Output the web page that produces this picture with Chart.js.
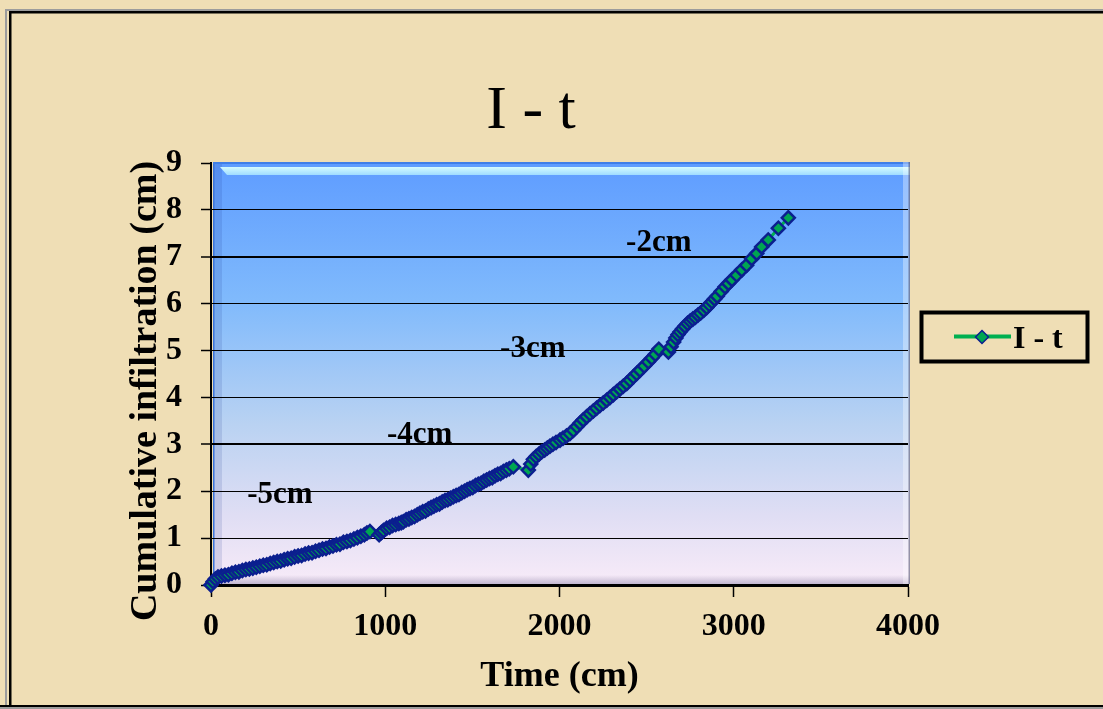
<!DOCTYPE html>
<html>
<head>
<meta charset="utf-8">
<title>I - t</title>
<script src="https://cdn.jsdelivr.net/npm/chart.js@4.4.1/dist/chart.umd.min.js"></script>
<style>
  html, body { margin: 0; padding: 0; background: #efdeb5; }
  #wrap { width: 1103px; height: 709px; position: relative; }
  canvas { display: block; }
</style>
</head>
<body>
<div id="wrap"><canvas id="chart" width="1103" height="709"></canvas></div>
<script>
// Cumulative infiltration readings for each suction stage (time, infiltration in cm)
const stageNames = ['-5cm', '-4cm', '-3cm', '-2cm'];

const time5 = [0, 12, 25, 40, 60, 80, 100, 120, 140, 160, 180, 200, 220, 240, 260, 280, 300, 320, 340, 360,
  380, 400, 420, 440, 460, 480, 500, 520, 540, 560, 580, 600, 620, 640, 660, 680, 700, 720, 740, 760,
  780, 800, 820, 840, 860, 880, 895, 912];
const infil5 = [0.00, 0.07, 0.13, 0.17, 0.19, 0.21, 0.22, 0.25, 0.27, 0.28, 0.31, 0.33, 0.34, 0.36, 0.38, 0.40, 0.42, 0.43, 0.46, 0.48,
  0.50, 0.51, 0.54, 0.56, 0.57, 0.60, 0.62, 0.63, 0.66, 0.68, 0.69, 0.72, 0.74, 0.77, 0.78, 0.81, 0.83, 0.86, 0.87, 0.91,
  0.93, 0.95, 0.98, 1.01, 1.04, 1.07, 1.11, 1.14];

const time4 = [965, 978, 990, 1008, 1025, 1042, 1060, 1078, 1092, 1104, 1120, 1136, 1152, 1168, 1184, 1199, 1215, 1231, 1247, 1263,
  1279, 1295, 1311, 1327, 1343, 1359, 1375, 1391, 1407, 1423, 1439, 1455, 1470, 1486, 1502, 1518, 1534, 1550, 1566, 1582,
  1598, 1614, 1630, 1646, 1662, 1678, 1695, 1712, 1735];
const infil4 = [1.07, 1.12, 1.16, 1.21, 1.23, 1.27, 1.29, 1.31, 1.33, 1.35, 1.39, 1.41, 1.44, 1.46, 1.50, 1.53, 1.56, 1.58, 1.62, 1.65,
  1.68, 1.71, 1.73, 1.77, 1.80, 1.82, 1.85, 1.88, 1.91, 1.93, 1.97, 2.00, 2.03, 2.06, 2.08, 2.12, 2.15, 2.17, 2.21, 2.24,
  2.27, 2.29, 2.33, 2.36, 2.38, 2.42, 2.45, 2.48, 2.52];

const time3 = [1821, 1835, 1850, 1866, 1882, 1898, 1915, 1930, 1945, 1962, 1980, 2003, 2020, 2040, 2060, 2080, 2100, 2118, 2136, 2156,
  2175, 2194, 2213, 2232, 2251, 2271, 2290, 2309, 2328, 2347, 2366, 2386, 2405, 2424, 2443, 2462, 2486, 2510, 2530, 2550, 2570];
const infil3 = [2.45, 2.58, 2.68, 2.74, 2.79, 2.84, 2.88, 2.92, 2.96, 3.00, 3.04, 3.09, 3.13, 3.18, 3.23, 3.30, 3.38, 3.45, 3.52, 3.59,
  3.65, 3.71, 3.77, 3.83, 3.88, 3.94, 4.00, 4.06, 4.12, 4.18, 4.24, 4.30, 4.37, 4.44, 4.51, 4.58, 4.67, 4.76, 4.84, 4.92, 5.03];

const time2 = [2625, 2640, 2655, 2668, 2680, 2692, 2706, 2720, 2735, 2750, 2765, 2780, 2795, 2810, 2828, 2845, 2860, 2875, 2890, 2905,
  2928, 2950, 2970, 2990, 3017, 3046, 3074, 3103, 3132, 3160, 3198, 3256, 3313];
const infil2 = [4.97, 5.08, 5.18, 5.27, 5.34, 5.40, 5.46, 5.52, 5.58, 5.63, 5.67, 5.71, 5.76, 5.80, 5.86, 5.92, 5.98, 6.04, 6.10, 6.16,
  6.26, 6.36, 6.43, 6.51, 6.61, 6.72, 6.82, 6.96, 7.07, 7.21, 7.36, 7.61, 7.83];

const xTicks = [0, 1000, 2000, 3000, 4000];
const yTicks = [0, 1, 2, 3, 4, 5, 6, 7, 8, 9];

const seriesName = 'I - t';
const chartTitle = 'I - t';
const xTitle = 'Time (cm)';
const yTitle = 'Cumulative infiltration (cm)';

// one continuous series built from the four stages
const stageTimes = [time5, time4, time3, time2];
const stageInfil = [infil5, infil4, infil3, infil2];
const points = [];
stageTimes.forEach((ts, s) => ts.forEach((t, i) => points.push({ x: t, y: stageInfil[s][i] })));

const SERIF = '"Liberation Serif", "Times New Roman", Times, serif';
const LINE_GREEN = '#00b050';
const MARK_GREEN = '#00a651';
const MARK_EDGE = '#0b1f8f';

// parchment page, double frame and the bevelled gradient plot panel
const backdrop = {
  id: 'backdrop',
  beforeDraw(chart) {
    const ctx = chart.ctx;
    const a = chart.chartArea;
    const W = chart.width, H = chart.height;
    ctx.save();
    ctx.fillStyle = '#efdeb5';
    ctx.fillRect(0, 0, W, H);

    // outer frame
    ctx.fillStyle = '#9c9c9c';
    ctx.fillRect(5, 9, W - 5, 2);
    ctx.fillRect(5, 9, 2, H - 9);
    ctx.fillStyle = '#000';
    ctx.fillRect(9, 11, W - 9, 2.5);
    ctx.fillRect(9, 11, 2.5, H - 11);
    ctx.fillRect(0, 705, W, 2);
    ctx.fillStyle = '#9c9c9c';
    ctx.fillRect(0, 707, W, 2);

    // plot panel
    const x0 = a.left + 2, y0 = a.top - 1, x1 = a.right + 2, y1 = a.bottom - 1;
    const g = ctx.createLinearGradient(0, y0, 0, y1);
    g.addColorStop(0, '#5e9cff');
    g.addColorStop(0.33, '#80bafc');
    g.addColorStop(0.62, '#b9d2f2');
    g.addColorStop(0.84, '#e0def4');
    g.addColorStop(1, '#f8ebf8');
    ctx.fillStyle = g;
    ctx.fillRect(x0, y0, x1 - x0, y1 - y0);

    // left shade strip
    ctx.fillStyle = 'rgba(20, 50, 140, 0.13)';
    ctx.fillRect(x0, y0, 9, y1 - y0);
    ctx.fillStyle = '#3a74dc';
    ctx.fillRect(x0, y0, 1.5, y1 - y0);

    // top edge and highlight
    ctx.fillStyle = '#3f7fe8';
    ctx.fillRect(x0, y0, x1 - x0, 2);
    const hg = ctx.createLinearGradient(0, y0 + 5, 0, y0 + 13);
    hg.addColorStop(0, '#d4fbff');
    hg.addColorStop(1, '#9fdcff');
    ctx.fillStyle = hg;
    ctx.beginPath();
    ctx.moveTo(x0 + 7, y0 + 5);
    ctx.lineTo(x1, y0 + 5);
    ctx.lineTo(x1, y0 + 13);
    ctx.lineTo(x0 + 14, y0 + 13);
    ctx.closePath();
    ctx.fill();

    // bottom shadow strip
    const bg = ctx.createLinearGradient(0, y1 - 9, 0, y1);
    bg.addColorStop(0, 'rgba(150, 140, 175, 0)');
    bg.addColorStop(1, 'rgba(150, 140, 175, 0.55)');
    ctx.fillStyle = bg;
    ctx.fillRect(x0, y1 - 9, x1 - x0, 9);

    // right bevel
    ctx.fillStyle = 'rgba(255, 255, 255, 0.35)';
    ctx.fillRect(x1 - 7, y0, 7, y1 - y0);
    ctx.fillStyle = 'rgba(70, 70, 100, 0.55)';
    ctx.fillRect(x1 - 1.5, y0, 1.5, y1 - y0);
    ctx.restore();
  }
};

// chart title, rotated y-axis title, stage notes and the legend box
const overlay = {
  id: 'overlay',
  afterDraw(chart, args, opts) {
    const ctx = chart.ctx;
    const xs = chart.scales.x, ys = chart.scales.y;
    ctx.save();
    ctx.fillStyle = '#000';

    ctx.font = '62px ' + SERIF;
    ctx.textAlign = 'center';
    ctx.textBaseline = 'middle';
    ctx.fillText(chartTitle, 531, 112);

    ctx.save();
    ctx.translate(146, 391);
    ctx.rotate(-Math.PI / 2);
    ctx.font = 'bold 38px ' + SERIF;
    ctx.fillText(yTitle, 0, 0);
    ctx.restore();

    ctx.font = 'bold 31px ' + SERIF;
    ctx.textAlign = 'left';
    ctx.textBaseline = 'alphabetic';
    opts.notes.forEach((n, i) => {
      ctx.fillText(stageNames[i], xs.getPixelForValue(n.t), ys.getPixelForValue(n.v));
    });

    // legend
    const ds = chart.data.datasets[0];
    ctx.lineWidth = 4;
    ctx.strokeStyle = '#000';
    ctx.strokeRect(921.5, 312.5, 166, 49);
    ctx.strokeStyle = ds.borderColor;
    ctx.beginPath();
    ctx.moveTo(954, 336.5);
    ctx.lineTo(1011, 336.5);
    ctx.stroke();
    const cx = 982, cy = 337, r = 6.5;
    ctx.beginPath();
    ctx.moveTo(cx, cy - r);
    ctx.lineTo(cx + r, cy);
    ctx.lineTo(cx, cy + r);
    ctx.lineTo(cx - r, cy);
    ctx.closePath();
    ctx.fillStyle = ds.pointBackgroundColor;
    ctx.fill();
    ctx.lineWidth = 1.5;
    ctx.strokeStyle = ds.pointBorderColor;
    ctx.stroke();
    ctx.fillStyle = '#000';
    ctx.font = 'bold 32px ' + SERIF;
    ctx.fillText(ds.label, 1013, 348);
    ctx.restore();
  }
};

new Chart(document.getElementById('chart'), {
  type: 'line',
  data: {
    datasets: [{
      label: seriesName,
      data: points,
      borderColor: LINE_GREEN,
      borderWidth: 3,
      pointStyle: 'rectRot',
      pointRadius: 6.5,
      pointBackgroundColor: MARK_GREEN,
      pointBorderColor: MARK_EDGE,
      pointBorderWidth: 2.5,
      tension: 0,
      clip: false
    }]
  },
  options: {
    responsive: false,
    animation: false,
    devicePixelRatio: 1,
    layout: { padding: { top: 163, right: 195, bottom: 0, left: 0 } },
    plugins: {
      legend: { display: false },
      title: { display: false },
      tooltip: { enabled: false },
      overlay: {
        notes: [
          { t: 208, v: 1.75 },
          { t: 1010, v: 3.03 },
          { t: 1659, v: 4.87 },
          { t: 2382, v: 7.12 }
        ]
      }
    },
    scales: {
      x: {
        type: 'linear',
        min: xTicks[0],
        max: xTicks[xTicks.length - 1],
        afterFit(s) { s.height = 124; },
        afterBuildTicks(s) { s.ticks = xTicks.map(v => ({ value: v })); },
        ticks: {
          color: '#000',
          font: { family: SERIF, size: 32, weight: 'bold' },
          padding: 11,
          maxRotation: 0,
          autoSkip: false,
          callback: v => String(v)
        },
        grid: {
          drawOnChartArea: false,
          tickColor: '#000',
          tickLength: 12,
          tickWidth: 1.5
        },
        border: { display: true, color: '#000', width: 3 },
        title: {
          display: true,
          text: xTitle,
          color: '#000',
          font: { family: SERIF, size: 36, weight: 'bold' },
          padding: { top: 0, bottom: 11 }
        }
      },
      y: {
        type: 'linear',
        min: yTicks[0],
        max: yTicks[yTicks.length - 1],
        afterFit(s) { s.width = 211; },
        afterBuildTicks(s) { s.ticks = yTicks.map(v => ({ value: v })); },
        ticks: {
          color: '#000',
          font: { family: SERIF, size: 32, weight: 'bold' },
          padding: 19,
          callback: v => String(v)
        },
        grid: {
          color: c => (c.tick && c.tick.value === yTicks[yTicks.length - 1]) ? 'rgba(0,0,0,0)' : '#000',
          lineWidth: c => (c.tick && (c.tick.value === 3 || c.tick.value === 7)) ? 2 : 1,
          tickColor: '#000',
          tickLength: 10,
          tickWidth: 1.5
        },
        border: { display: true, color: '#000', width: 2 }
      }
    }
  }
  ,
  plugins: [backdrop, overlay]
});
</script>
</body>
</html>
